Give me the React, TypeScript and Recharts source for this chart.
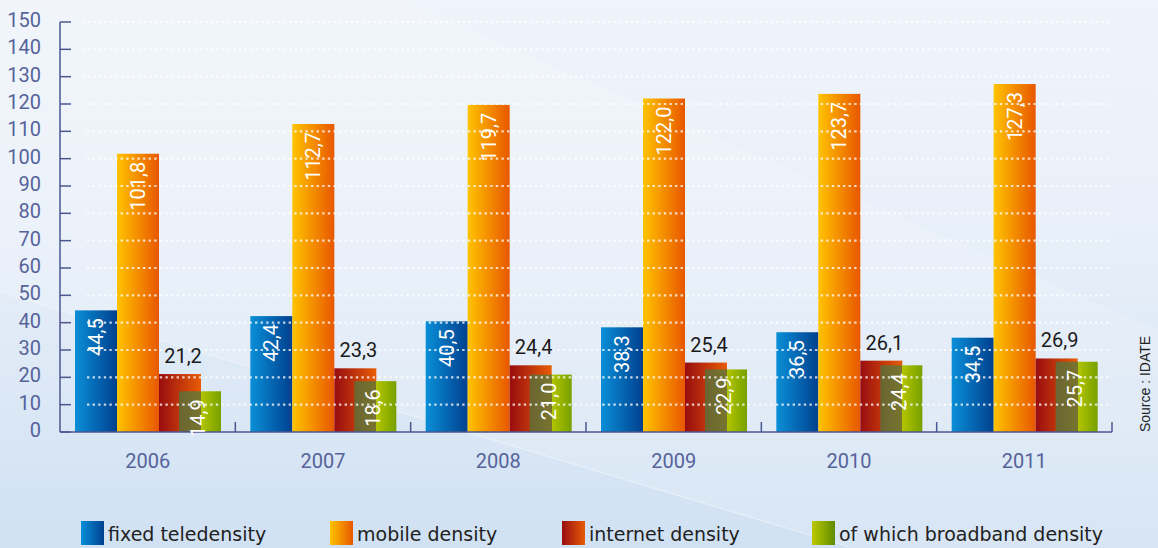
import React from "react"
import { BarChart, Bar, XAxis, YAxis, CartesianGrid, LabelList } from "recharts"

const years = ["2006", "2007", "2008", "2009", "2010", "2011"]
const fixedTeledensity = [44.5, 42.4, 40.5, 38.3, 36.5, 34.5]
const mobileDensity = [101.8, 112.7, 119.7, 122.0, 123.7, 127.3]
const internetDensity = [21.2, 23.3, 24.4, 25.4, 26.1, 26.9]
const broadbandDensity = [14.9, 18.6, 21.0, 22.9, 24.4, 25.7]
const yTicks = [0, 10, 20, 30, 40, 50, 60, 70, 80, 90, 100, 110, 120, 130, 140, 150]

const W = 1158
const H = 548
const MARGIN = { top: 22, right: 46, left: 0, bottom: 76 }
const Y_AXIS_W = 60
const BAND = (W - MARGIN.left - Y_AXIS_W - MARGIN.right) / years.length
const PLOT_BOTTOM = H - MARGIN.bottom - 40

const AXIS = "#4b5790"
const TICK_TEXT = "#56639a"
const NARROW = "'Liberation Sans Narrow', 'Arial Narrow', 'Roboto', sans-serif"
const LEGEND_FONT = "'DejaVu Sans', 'Lato', sans-serif"

const series = [
  { key: "fixed", name: "fixed teledensity", grad: "gFixed", from: "#0a8fd8", to: "#00408e" },
  { key: "mobile", name: "mobile density", grad: "gMobile", from: "#ffc300", to: "#e85700" },
  { key: "internet", name: "internet density", grad: "gInternet", from: "#980d10", to: "#e85c06" },
  { key: "broadband", name: "of which broadband density", grad: "gBroad", from: "#bcc900", to: "#5e8c00" },
]

const data = years.map((year, i) => ({
  year,
  fixed: fixedTeledensity[i],
  mobile: mobileDensity[i],
  internet: internetDensity[i],
  broadband: broadbandDensity[i],
}))

const fmt = (v: number) => v.toFixed(1).replace(".", ",")

// bars sit side by side, broadband overlaps half of internet
const shiftedBar = (dx: number, fill: string) => (props: any) => {
  const { x, y, width, height } = props
  if (!height || height <= 0) return <g />
  return <rect x={x + dx} y={y} width={width} height={height} fill={fill} />
}

const insideLabel = (dx: number) => (props: any) => {
  const vb = props.viewBox ?? props
  const { x, y, width } = vb
  const cx = x + dx + width / 2
  const ty = y + 8
  return (
    <text
      x={cx}
      y={ty}
      transform={`rotate(-90 ${cx} ${ty})`}
      textAnchor="end"
      dominantBaseline="central"
      fill="#ffffff"
      fontSize={20}
      fontFamily={NARROW}
    >
      {fmt(props.value)}
    </text>
  )
}

const topLabel = (dx: number) => (props: any) => {
  const vb = props.viewBox ?? props
  const { x, y, width } = vb
  return (
    <text x={x + dx + width / 2 + 3} y={y - 11} textAnchor="middle" fill="#1a1a1a" fontSize={20} fontFamily={NARROW}>
      {fmt(props.value)}
    </text>
  )
}

const YTick = (props: any) => {
  const { x, y, payload } = props
  return (
    <g>
      <line x1={x} x2={x + 11} y1={y} y2={y} stroke={AXIS} strokeWidth={1.5} />
      <text x={x - 19} y={y - 2} textAnchor="end" dominantBaseline="central" fill={TICK_TEXT} fontSize={20} fontFamily={NARROW}>
        {payload.value}
      </text>
    </g>
  )
}

const XTick = (props: any) => {
  const { x, y, payload } = props
  const bx = x + BAND / 2
  return (
    <g>
      <line x1={bx} x2={bx} y1={y - 10} y2={y} stroke={AXIS} strokeWidth={1.5} />
      <text x={x} y={y + 29} textAnchor="middle" dominantBaseline="central" fill={TICK_TEXT} fontSize={20} fontFamily={NARROW}>
        {payload.value}
      </text>
    </g>
  )
}

const gridLine = (p: any) => {
  if (p.y1 > PLOT_BOTTOM - 2) return <g key={`h-${p.y1}`} />
  const start = p.y1 < 100 ? 82 : 87
  return (
    <line
      key={`h-${p.y1}`}
      x1={start}
      x2={p.x2 - 2}
      y1={p.y1}
      y2={p.y2}
      stroke="#ffffff"
      strokeOpacity={0.75}
      strokeWidth={2.2}
      strokeDasharray="2.4 3.2"
    />
  )
}

const legendPos = [81, 330, 562, 812]

export default function App() {
  return (
    <div
      style={{
        position: "absolute",
        left: 0,
        top: 0,
        width: W,
        height: H,
        overflow: "hidden",
        background: "linear-gradient(to bottom, #eff4fb 0%, #e9f0f9 40%, #d0e1f3 100%)",
      }}
    >
      <svg width={W} height={H} style={{ position: "absolute", left: 0, top: 0 }}>
        <polygon points="0,0 401,0 1158,330 1158,548 850,548 0,292" fill="#ffffff" fillOpacity={0.16} />
        <line x1={0} y1={292} x2={850} y2={547} stroke="#ffffff" strokeOpacity={0.4} strokeWidth={1} />
      </svg>
      <BarChart width={W} height={H} data={data} margin={MARGIN} barGap={0} barSize={42} style={{ position: "absolute", left: 0, top: 0 }}>
        <defs>
          {series.map((s) => (
            <linearGradient key={s.grad} id={s.grad} x1="0" y1="0" x2="1" y2="0">
              <stop offset="0%" stopColor={s.from} />
              <stop offset="100%" stopColor={s.to} />
            </linearGradient>
          ))}
          <linearGradient id="gBroadBar" x1="0" y1="0" x2="1" y2="0">
            <stop offset="0%" stopColor="#6a6531" />
            <stop offset="52%" stopColor="#78742f" />
            <stop offset="52%" stopColor="#b3c500" />
            <stop offset="100%" stopColor="#76a000" />
          </linearGradient>
        </defs>
        <XAxis
          dataKey="year"
          interval={0}
          axisLine={{ stroke: AXIS, strokeWidth: 1.5 }}
          tickLine={false}
          tickSize={0}
          tickMargin={0}
          height={40}
          tick={<XTick />}
        />
        <YAxis
          domain={[0, 150]}
          ticks={yTicks}
          interval={0}
          width={Y_AXIS_W}
          axisLine={{ stroke: AXIS, strokeWidth: 1.5 }}
          tickLine={false}
          tickSize={0}
          tickMargin={0}
          tick={<YTick />}
        />
        <Bar dataKey="fixed" name="fixed teledensity" fill="url(#gFixed)" isAnimationActive={false} shape={shiftedBar(11, "url(#gFixed)")}>
          <LabelList dataKey="fixed" content={insideLabel(11)} />
        </Bar>
        <Bar dataKey="mobile" name="mobile density" fill="url(#gMobile)" isAnimationActive={false} shape={shiftedBar(11, "url(#gMobile)")}>
          <LabelList dataKey="mobile" content={insideLabel(11)} />
        </Bar>
        <Bar dataKey="internet" name="internet density" fill="url(#gInternet)" isAnimationActive={false} shape={shiftedBar(11, "url(#gInternet)")}>
          <LabelList dataKey="internet" content={topLabel(11)} />
        </Bar>
        <Bar dataKey="broadband" name="of which broadband density" fill="url(#gBroadBar)" isAnimationActive={false} shape={shiftedBar(-11, "url(#gBroadBar)")}>
          <LabelList dataKey="broadband" content={insideLabel(-13)} />
        </Bar>
        <CartesianGrid vertical={false} horizontal={gridLine} stroke="#ffffff" zIndex={1000} />
      </BarChart>

      {series.map((s, i) => (
        <div key={s.key} style={{ position: "absolute", left: legendPos[i], top: 521, display: "flex", alignItems: "flex-end" }}>
          <div style={{ width: 23, height: 24, background: `linear-gradient(to right, ${s.from}, ${s.to})` }} />
          <span style={{ marginLeft: 4, fontFamily: LEGEND_FONT, fontSize: 19, color: "#222", lineHeight: "22px" }}>{s.name}</span>
        </div>
      ))}

      <div
        style={{
          position: "absolute",
          left: 1145,
          top: 384,
          transform: "translate(-50%, -50%) rotate(-90deg)",
          whiteSpace: "nowrap",
          fontFamily: "'Liberation Sans', Arial, sans-serif",
          fontSize: 14,
          color: "#222",
        }}
      >
        Source : IDATE
      </div>
    </div>
  )
}
